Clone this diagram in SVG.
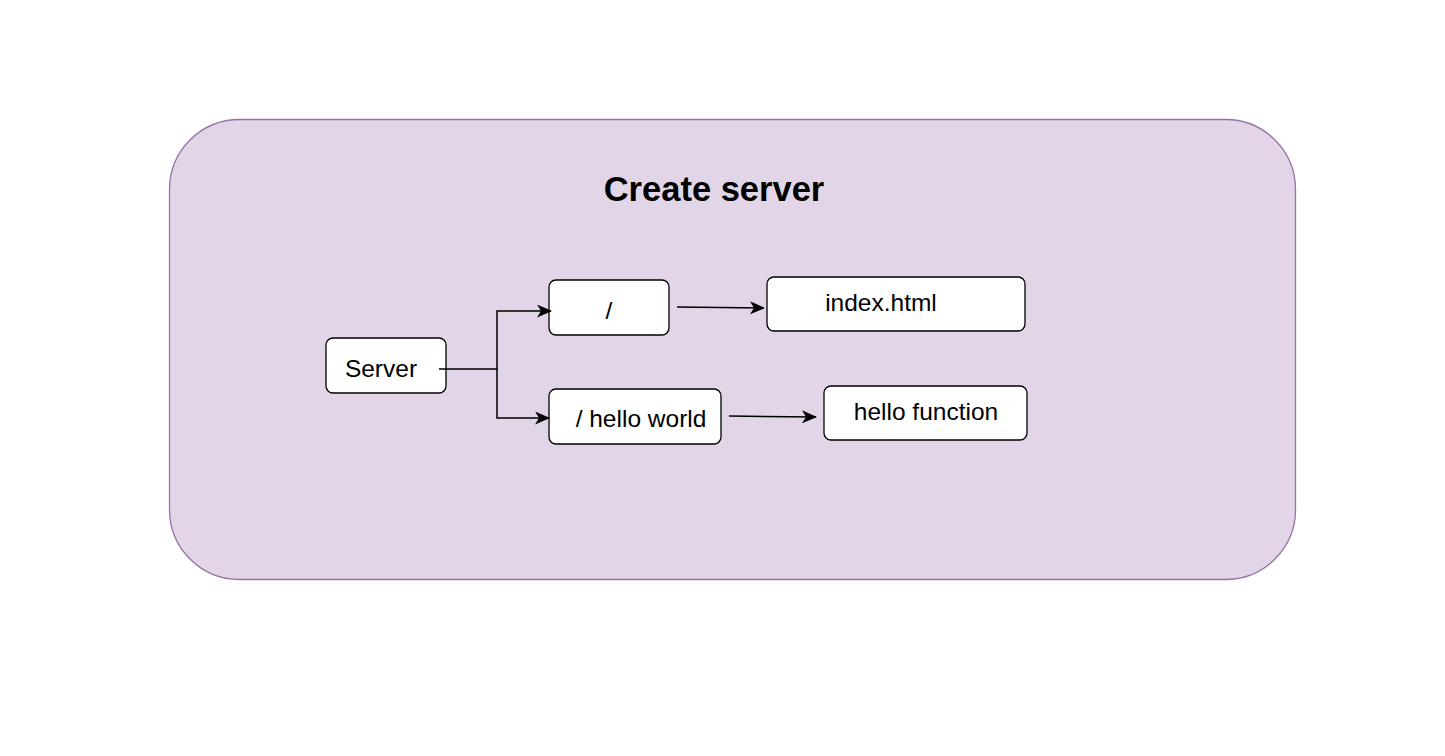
<svg xmlns="http://www.w3.org/2000/svg" width="1445" height="756" viewBox="0 0 1445 756">
<style>
.node rect{fill:#ffffff;stroke:#000000;stroke-width:1.3}
.lbl{font-family:"Liberation Sans",Arial,sans-serif;font-size:24.5px;fill:#000000;text-anchor:middle}
.edge{fill:none;stroke:#000000;stroke-width:1.5}
</style>
<defs>
<marker id="arr" markerWidth="15" markerHeight="13" refX="14" refY="6.5" orient="auto" markerUnits="userSpaceOnUse">
<path d="M0,0 L15,6.5 L0,13 L4,6.5 Z" fill="#000000"/>
</marker>
</defs>
<rect width="1445" height="756" fill="#ffffff"/>
<g id="container">
<rect x="169.5" y="119.5" width="1126" height="460" rx="70" ry="70" fill="#e1d5e7" stroke="#9673a6" stroke-width="1.3"/>
<text x="714" y="201" font-family="'Liberation Sans',Arial,sans-serif" font-size="34.5" font-weight="bold" text-anchor="middle" fill="#000000">Create server</text>
</g>
<g id="server" class="node">
<rect x="326" y="338" width="120" height="55" rx="7"/>
<text class="lbl" x="381" y="377">Server</text>
</g>
<g id="root" class="node">
<rect x="549" y="280" width="120" height="55" rx="7"/>
<text class="lbl" x="609" y="319">/</text>
</g>
<g id="hello" class="node">
<rect x="549" y="389" width="172" height="55" rx="7"/>
<text class="lbl" x="641" y="427">/ hello world</text>
</g>
<g id="index" class="node">
<rect x="767" y="277" width="258" height="54" rx="7"/>
<text class="lbl" x="881" y="311">index.html</text>
</g>
<g id="hellofn" class="node">
<rect x="824" y="386" width="203" height="54" rx="7"/>
<text class="lbl" x="926" y="420">hello function</text>
</g>
<g id="connectors">
<path class="edge" d="M439,369 H497 V311 H551" marker-end="url(#arr)"/>
<path class="edge" d="M497,369 V418 H549" marker-end="url(#arr)"/>
<path class="edge" d="M677,307 L764,308" marker-end="url(#arr)"/>
<path class="edge" d="M729,416 L816,417" marker-end="url(#arr)"/>
</g>
</svg>
